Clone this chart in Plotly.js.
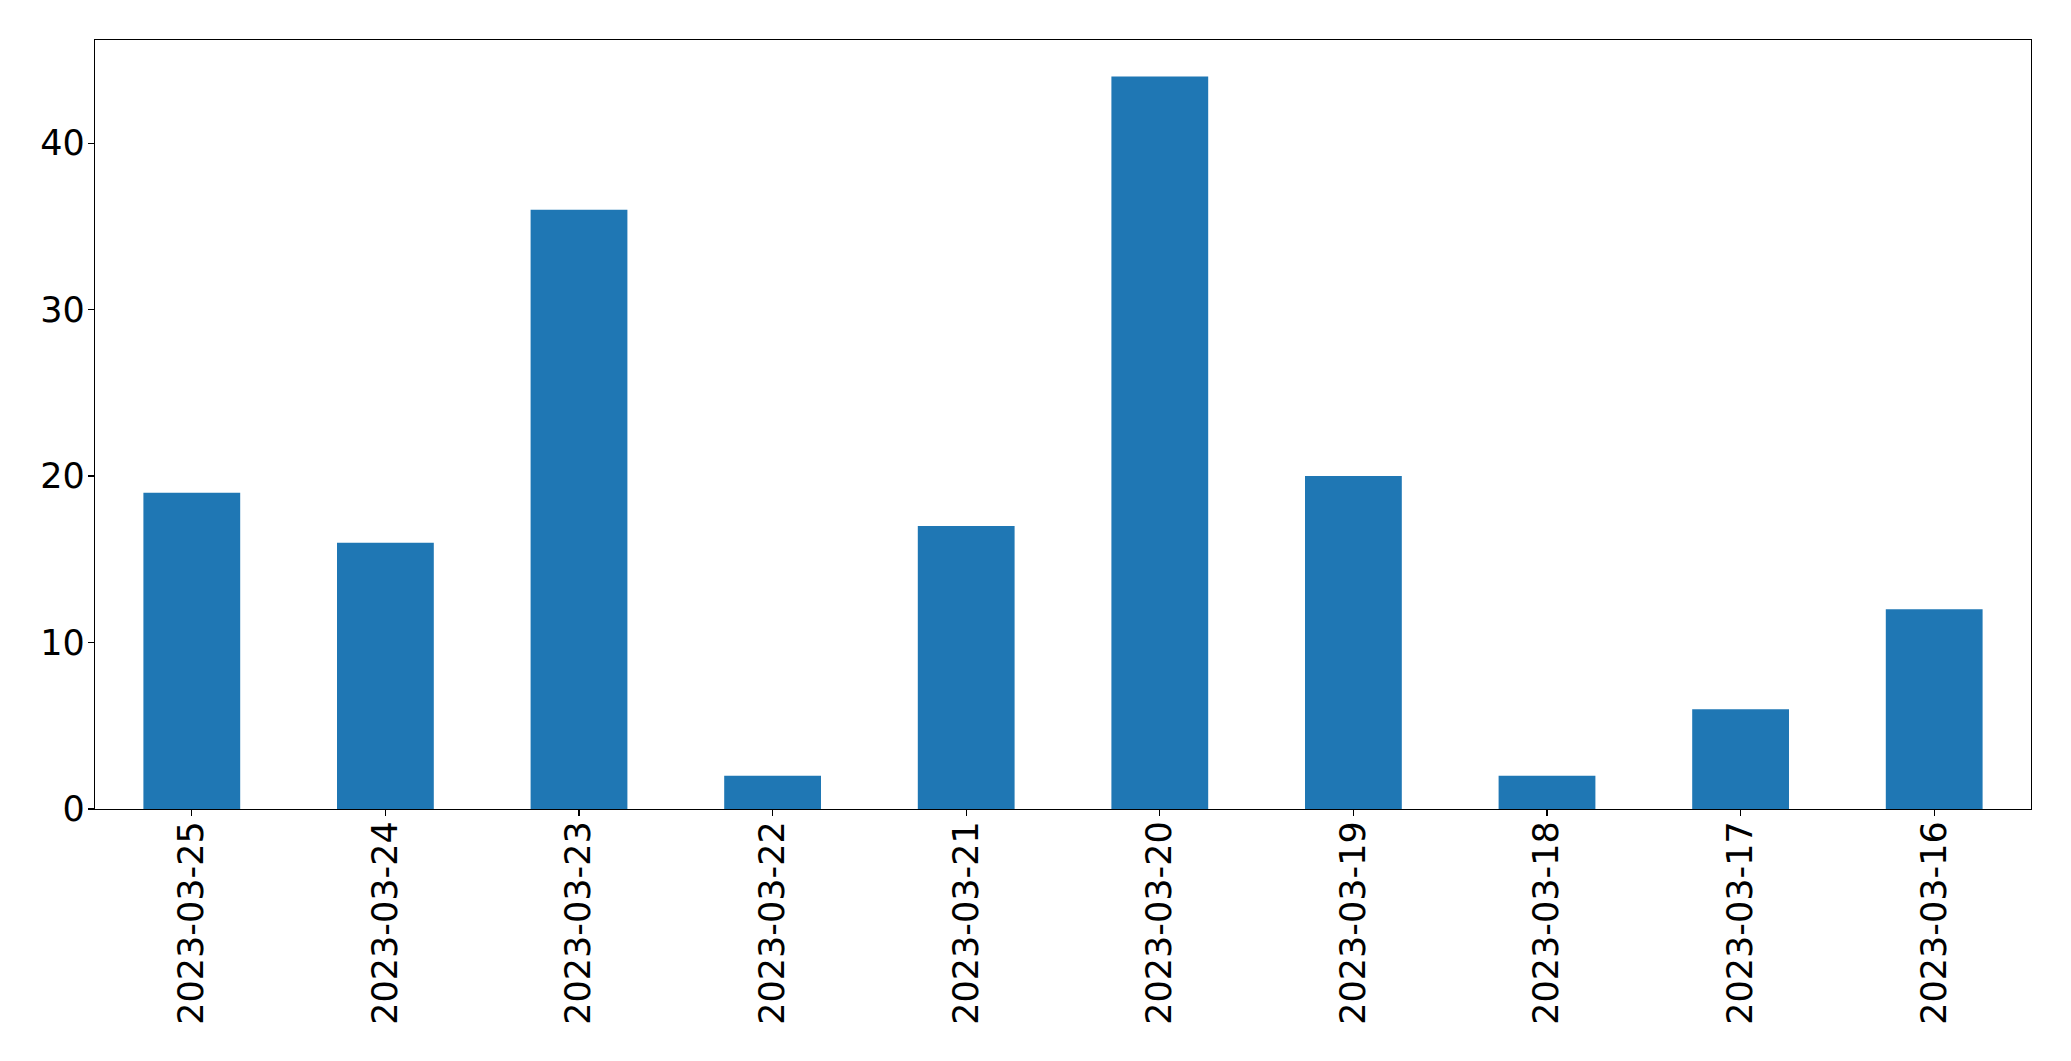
<!DOCTYPE html>
<html>
<head>
<meta charset="utf-8">
<script src="https://cdn.plot.ly/plotly-3.0.1.min.js"></script>
<style>html,body{margin:0;padding:0;background:#fff;}#chart{width:2071px;height:1061px;}</style>
</head>
<body>
<div id="chart"></div>
<script>
const categories = ["2023-03-25","2023-03-24","2023-03-23","2023-03-22","2023-03-21","2023-03-20","2023-03-19","2023-03-18","2023-03-17","2023-03-16"];
const values = [19, 16, 36, 2, 17, 44, 20, 2, 6, 12];
const yTicks = [0, 10, 20, 30, 40];

const trace = {
  type: 'bar',
  x: categories,
  y: values,
  width: 0.5,
  marker: {color: '#1f77b4', line: {width: 0}},
  hoverinfo: 'x+y'
};

const axisCommon = {
  showline: true, linecolor: '#000', linewidth: 1.3, mirror: true,
  ticks: 'outside', ticklen: 6, tickwidth: 1.3, tickcolor: '#000',
  showgrid: false, zeroline: false,
  tickfont: {family: 'DejaVu Sans', size: 35, color: '#000'}
};

const layout = {
  width: 2071, height: 1061,
  margin: {l: 95, r: 40, t: 40, b: 252, pad: 0},
  paper_bgcolor: '#fff', plot_bgcolor: '#fff',
  showlegend: false,
  bargap: 0.5,
  xaxis: Object.assign({}, axisCommon, {
    type: 'category', range: [-0.5, 9.5], tickangle: -90,
    ticklabelstandoff: -9
  }),
  yaxis: Object.assign({}, axisCommon, {
    range: [0, 46.2], tickvals: yTicks, ticktext: yTicks.map(String),
    ticklabelstandoff: -4
  })
};

Plotly.newPlot('chart', [trace], layout, {displayModeBar: false, staticPlot: true});
</script>
</body>
</html>
